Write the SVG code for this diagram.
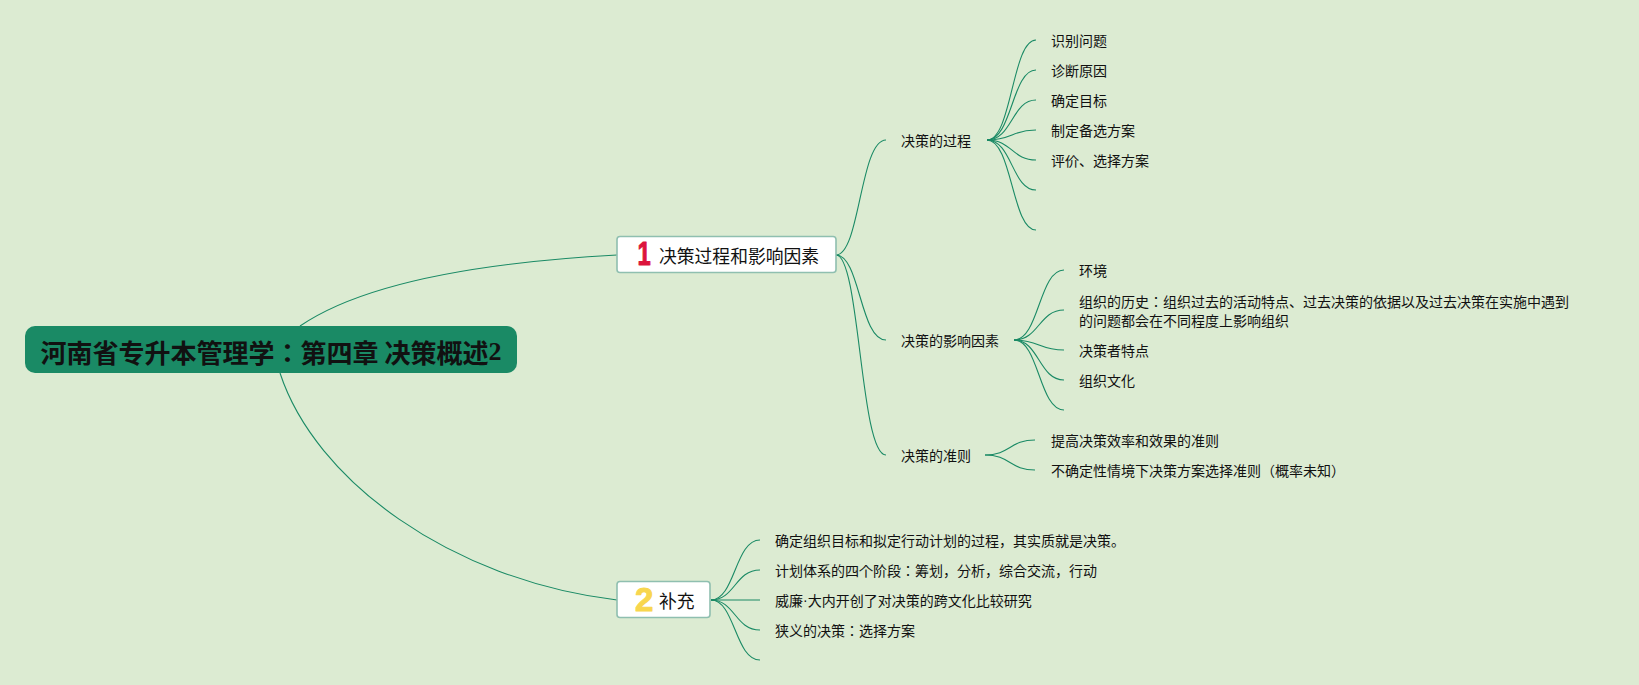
<svg xmlns="http://www.w3.org/2000/svg" width="1639" height="685" viewBox="0 0 1639 685">
<style>
text{font-family:"Noto Sans CJK JP","Noto Sans CJK SC",sans-serif;fill:#111;dominant-baseline:central}
.leaf{font-size:14px}
.main{font-size:17.8px}
.root{font-size:26px;font-weight:700}
.num{font-family:"Liberation Sans",sans-serif;font-size:33px;font-weight:700;stroke-width:1;stroke-linejoin:round}
.c{fill:none;stroke:#1a8a65;stroke-width:1.1}
.box{fill:#fff;stroke:#8fbfb0;stroke-width:1.6}
</style>
<rect width="1639" height="685" fill="#dcebd2"/>
<g id="connectors">
<path class="c" d="M300 326C360 285 470 263 617 255"/>
<path class="c" d="M280 373C315 480 450 580 617 600"/>
<path class="c" d="M836 255C860 255 860 140 886 140"/>
<path class="c" d="M836 255C860 255 860 340 886 340"/>
<path class="c" d="M836 255C860 255 860 455 886 455"/>
<path class="c" d="M987 140C1012 140 1012 40 1036 40"/>
<path class="c" d="M987 140C1012 140 1012 70 1036 70"/>
<path class="c" d="M987 140C1012 140 1012 100 1036 100"/>
<path class="c" d="M987 140C1012 140 1012 130 1036 130"/>
<path class="c" d="M987 140C1012 140 1012 160 1036 160"/>
<path class="c" d="M987 140C1012 140 1012 190 1036 190"/>
<path class="c" d="M987 140C1012 140 1012 230 1036 230"/>
<path class="c" d="M1014 340C1039 340 1039 270 1064 270"/>
<path class="c" d="M1014 340C1039 340 1039 310 1064 310"/>
<path class="c" d="M1014 340C1039 340 1039 350 1064 350"/>
<path class="c" d="M1014 340C1039 340 1039 380 1064 380"/>
<path class="c" d="M1014 340C1039 340 1039 410 1064 410"/>
<path class="c" d="M985 455C1010 455 1010 440 1035 440"/>
<path class="c" d="M985 455C1010 455 1010 470 1035 470"/>
<path class="c" d="M711 600C735 600 735 540 760 540"/>
<path class="c" d="M711 600C735 600 735 570 760 570"/>
<path class="c" d="M711 600C735 600 735 600 760 600"/>
<path class="c" d="M711 600C735 600 735 630 760 630"/>
<path class="c" d="M711 600C735 600 735 660 760 660"/>
</g>
<g id="root"><rect x="25" y="326" width="492" height="47" rx="10" fill="#1a8a65"/><text class="root" x="40.5" y="351">河南省专升本管理学：第四章 决策概述<tspan font-family="Liberation Serif">2</tspan></text></g>
<g id="n1"><rect class="box" x="617" y="236.5" width="219" height="36" rx="3"/><text class="num" transform="translate(637.5 254) scale(.72 1)" x="0" y="0" style="fill:#dc143c;stroke:#dc143c">1</text><text class="main" x="659" y="255">决策过程和影响因素</text></g>
<g id="n2"><rect class="box" x="617" y="581.5" width="93" height="36" rx="3"/><text class="num" x="635" y="599" style="fill:#f8d64e;stroke:#f8d64e">2</text><text class="main" x="659" y="600">补充</text></g>
<g id="a"><text class="leaf" x="901" y="140">决策的过程</text></g>
<g id="a1"><text class="leaf" x="1051" y="40">识别问题</text></g>
<g id="a2"><text class="leaf" x="1051" y="70">诊断原因</text></g>
<g id="a3"><text class="leaf" x="1051" y="100">确定目标</text></g>
<g id="a4"><text class="leaf" x="1051" y="130">制定备选方案</text></g>
<g id="a5"><text class="leaf" x="1051" y="160">评价、选择方案</text></g>
<g id="b"><text class="leaf" x="901" y="340">决策的影响因素</text></g>
<g id="b1"><text class="leaf" x="1079" y="270">环境</text></g>
<g id="b2"><text class="leaf" x="1079" y="301">组织的历史：组织过去的活动特点、过去决策的依据以及过去决策在实施中遇到</text><text class="leaf" x="1079" y="320">的问题都会在不同程度上影响组织</text></g>
<g id="b3"><text class="leaf" x="1079" y="350">决策者特点</text></g>
<g id="b4"><text class="leaf" x="1079" y="380">组织文化</text></g>
<g id="c"><text class="leaf" x="901" y="455">决策的准则</text></g>
<g id="c1"><text class="leaf" x="1051" y="440">提高决策效率和效果的准则</text></g>
<g id="c2"><text class="leaf" x="1051" y="470">不确定性情境下决策方案选择准则（概率未知）</text></g>
<g id="d1"><text class="leaf" x="775" y="540">确定组织目标和拟定行动计划的过程，其实质就是决策。</text></g>
<g id="d2"><text class="leaf" x="775" y="570">计划体系的四个阶段：筹划，分析，综合交流，行动</text></g>
<g id="d3"><text class="leaf" x="775" y="600">威廉<tspan font-family="Liberation Sans">·</tspan>大内开创了对决策的跨文化比较研究</text></g>
<g id="d4"><text class="leaf" x="775" y="630">狭义的决策：选择方案</text></g>
</svg>
